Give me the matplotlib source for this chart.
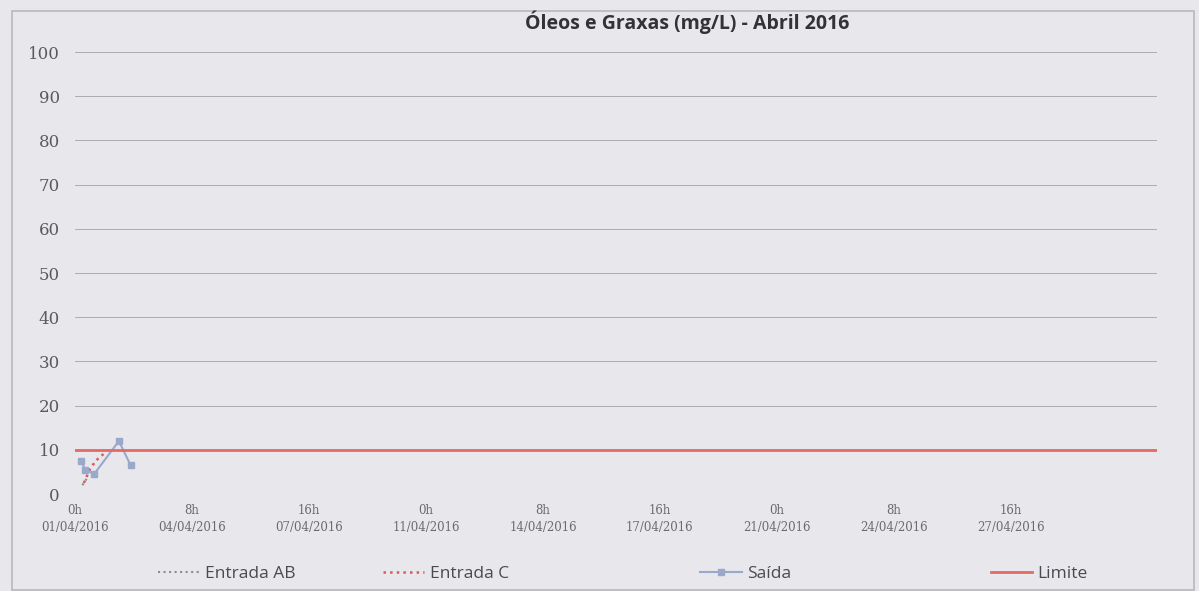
import matplotlib.pyplot as plt
import numpy as np

# hours since 01/04/2016 0h
tick_hours = [0, 80, 160, 240, 320, 400, 480, 560, 640]
tick_labels = ["0h\n01/04/2016", "8h\n04/04/2016", "16h\n07/04/2016",
               "0h\n11/04/2016", "8h\n14/04/2016", "16h\n17/04/2016",
               "0h\n21/04/2016", "8h\n24/04/2016", "16h\n27/04/2016"]

ab_hours = [5, 9]
ab_vals = [2.0, 4.0]

c_hours = [6, 10, 14, 21]
c_vals = [2.5, 5.5, 7.5, 9.5]

saida_hours = [4, 7, 13, 30, 38]
saida_vals = [7.5, 5.5, 4.5, 12.0, 6.5]

limite_hours = [0, 740]
limite_vals = [10, 10]

legend_x = [0.122, 0.309, 0.574, 0.816]

bg = "#e8e8ec"
fig = plt.figure(figsize=(11.99, 5.91), dpi=100, facecolor=bg)
ax = fig.add_axes([0.0626, 0.164, 0.9024, 0.748], facecolor=bg)

# outer chart border
fig.patches.append(plt.Rectangle((0.01, 0.002), 0.986, 0.98, transform=fig.transFigure,
                                 fill=False, edgecolor="#b8b8bc", linewidth=1.2))

l1, = ax.plot(ab_hours, ab_vals, color="#8c8c90", linestyle=":", linewidth=1.5, label="Entrada AB")
l2, = ax.plot(c_hours, c_vals, color="#d85a5a", linestyle=":", linewidth=1.8, label="Entrada C")
l3, = ax.plot(saida_hours, saida_vals, color="#9aa8cc", linewidth=1.5, marker="s",
              markersize=4.5, label="Saída")
l4, = ax.plot(limite_hours, limite_vals, color="#e46a66", linewidth=2, label="Limite")

ax.set_xlim(2, 740)
ax.set_ylim(0, 100)
ax.set_yticks(np.arange(0, 101, 10))
ax.yaxis.grid(True, color="#a2a2a6", linewidth=0.6)
ax.set_axisbelow(True)
for s in ax.spines.values():
    s.set_visible(False)
ax.tick_params(axis="both", length=0)
ax.tick_params(axis="y", pad=11, labelsize=12, labelcolor="#5a5a5e")
for t in ax.get_yticklabels():
    t.set_family("DejaVu Serif")
ax.set_xticks(tick_hours)
ax.set_xticklabels(tick_labels, fontsize=8.5, color="#6a6a70", family="DejaVu Serif",
                   linespacing=1.4)
ax.tick_params(axis="x", pad=7)

fig.text(0.573, 0.962, "Óleos e Graxas (mg/L) - Abril 2016", ha="center", va="center",
         fontsize=14, fontweight="bold", color="#333336", family="Open Sans")

for handle, lx in zip([l1, l2, l3, l4], legend_x):
    fig.legend(handles=[handle], loc="lower left", bbox_to_anchor=(lx, -0.005),
               frameon=False, handlelength=2.4, handletextpad=0.3, borderaxespad=0.3,
               labelcolor="#4a4a50", prop={"family": "Open Sans", "size": 12.5})

plt.savefig("out.png", dpi=100, facecolor=bg)
